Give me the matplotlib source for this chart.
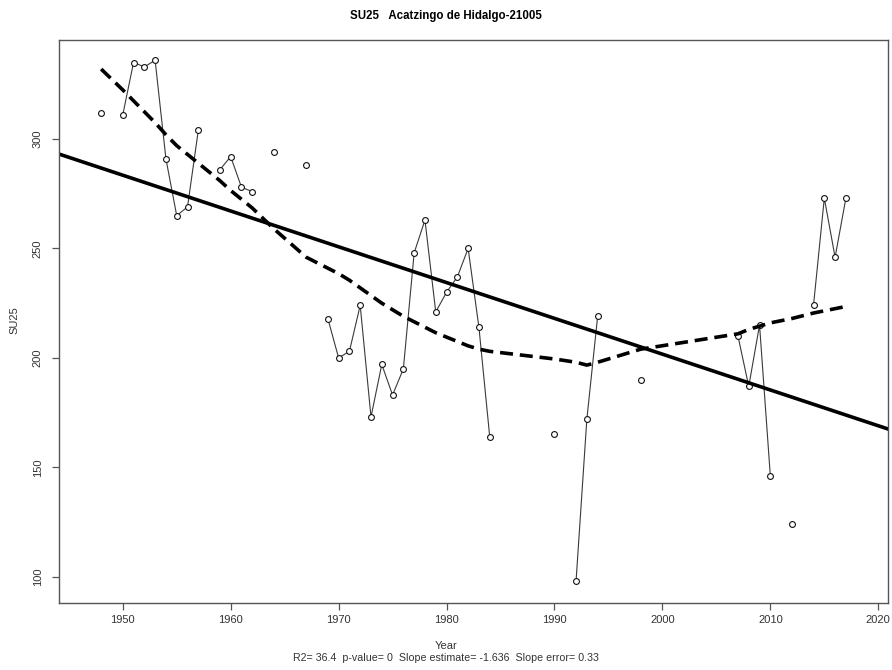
import numpy as np
import pandas as pd
import matplotlib
matplotlib.use('Agg')
import matplotlib.pyplot as plt

plt.rcParams['font.family'] = ['Liberation Sans', 'DejaVu Sans']

# datos
years = [1948, 1950, 1951, 1952, 1953, 1954, 1955, 1956, 1957, 1959, 1960, 1961, 1962,
         1964, 1967, 1969, 1970, 1971, 1972, 1973, 1974, 1975, 1976, 1977, 1978, 1979,
         1980, 1981, 1982, 1983, 1984, 1990, 1992, 1993, 1994, 1998, 2007, 2008, 2009,
         2010, 2012, 2014, 2015, 2016, 2017]
su25 = [312, 311, 335, 333, 336, 291, 265, 269, 304, 286, 292, 278, 276,
        294, 288, 218, 200, 203, 224, 173, 197, 183, 195, 248, 263, 221,
        230, 237, 250, 214, 164, 165, 98, 172, 219, 190, 210, 187, 215,
        146, 124, 224, 273, 246, 273]
# curva suavizada (loess)
smooth = [332, 322.5, 317.5, 312.5, 307.5, 302, 297, 293, 289, 281, 276.5, 272.5, 268.5,
          259, 246, 241, 238.5, 235.5, 232, 228.5, 225, 222, 219, 216.5, 214, 211.5,
          209.5, 207.5, 205.5, 204, 203, 199.5, 198, 196.7, 198, 204, 211, 213, 214.5,
          216, 218, 220.5, 221.5, 222.5, 223.5]
# tendencia lineal
slope = -1.636
intercept = 3473.7
subtitle = 'R2= 36.4  p-value= 0  Slope estimate= -1.636  Slope error= 0.33'

df = pd.DataFrame({'SU25': su25}, index=years)
full = df.reindex(range(min(years), max(years) + 1))

fig = plt.figure(figsize=(8.92, 6.7), dpi=100)
ax = fig.add_axes([0.0667, 0.1004, 0.9288, 0.8406])

ax.plot(full.index, full['SU25'], color='#3a3a3a', lw=0.8)
ax.plot(years, su25, 'o', mfc='white', mec='#111111', ms=4.2, mew=0.8)
ax.plot(years, smooth, color='black', lw=2.6, ls=(0, (3.6, 1.9)))

xlim = (1944.14, 2020.9)
xs = np.array(xlim)
ax.plot(xs, intercept + slope * xs, color='black', lw=2.6)

ax.set_xlim(xlim)
ax.set_ylim(88.1, 345.5)
ax.set_xticks(range(1950, 2021, 10))
ax.set_yticks([100, 150, 200, 250, 300])
for s in ax.spines.values():
    s.set_color('#555555')
    s.set_linewidth(1.0)
ax.tick_params(colors='#555555', labelcolor='#333333', labelsize=8, length=5, width=0.9)
ax.tick_params(axis='y', pad=7)
for lab in ax.get_yticklabels():
    lab.set_rotation(90)
    lab.set_va('center')

fig.text(0.5, 0.976, 'SU25   Acatzingo de Hidalgo-21005', ha='center', va='center',
         fontsize=8.3, fontweight='bold',
         family=['Liberation Sans Narrow', 'Liberation Sans', 'DejaVu Sans'])
fig.text(0.5, 0.036, 'Year', ha='center', va='center', fontsize=8, color='#333333')
fig.text(0.5, 0.018, subtitle, ha='center', va='center', fontsize=7.7, color='#333333')
fig.text(0.016, 0.522, 'SU25', rotation=90, ha='center', va='center', fontsize=8,
         color='#333333')

fig.savefig('out.png', dpi=100)
